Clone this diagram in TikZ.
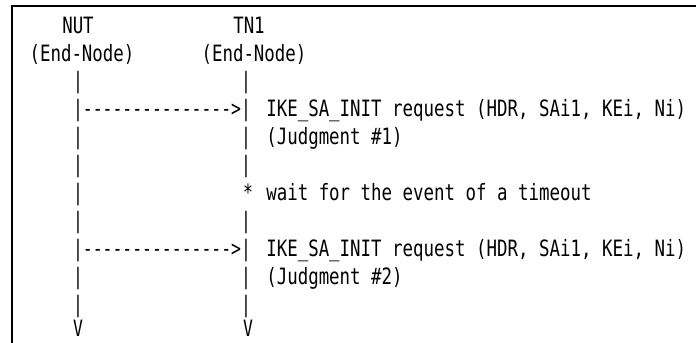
\documentclass[tikz,border=0pt]{standalone}
\usepackage{fontspec}
\newfontfamily\labfont[FakeStretch=0.775,Ligatures=TeXOff]{DejaVu Sans Mono}
\newfontfamily\artfont[FakeStretch=0.73,Ligatures=TeXOff]{DejaVu Sans Mono}
\begin{document}
\begin{tikzpicture}[
lab/.style={font={\labfont\fontsize{16}{18}\selectfont},inner sep=0pt,anchor=base west},
hdr/.style={font={\labfont\fontsize{16}{18}\selectfont},inner sep=0pt,anchor=base},
art/.style={font={\artfont\fontsize{16}{18}\selectfont},inner sep=0pt,anchor=base}]
\newcommand{\Exchange}[3]{
\node[art](arr#2) at(4.05,{-0.83-(#1-1)*0.6975}){|--------------->|};
\node[lab](req#2) at(6.65,{-0.83-(#1-1)*0.6975}){IKE\_SA\_INIT request (HDR, SAi1, KEi, Ni)};
\node[lab](jdg#2) at(6.65,{-0.83-#1*0.6975}){(Judgment \##3)};}
\useasboundingbox(0,0)rectangle(17.4,-8.575);
\draw[line width=1.4pt](0.3,-8.575)--(0.3,-0.15)--(17.4,-0.15);
\node[hdr](nut) at(1.95,-0.83){NUT};
\node[hdr](tn) at(6.225,-0.83){TN1};
\node[hdr](nutrole) at(2.05,-1.53){(End-Node)};
\node[hdr](tnrole) at(6.35,-1.53){(End-Node)};
\foreach \r in {3,5,6,7,8,10,11}
\node[art](nl\r) at(1.95,{-0.83-(\r-1)*0.6975}){|};
\foreach \r in {3,5,6,8,10,11}
\node[art](tl\r) at(6.15,{-0.83-(\r-1)*0.6975}){|};
\Exchange{4}{a}{1}
\Exchange{9}{b}{2}
\node[art](star) at(6.2,-5.015) {*};
\node[lab](wait) at(6.65,-5.015) {wait for the event of a timeout};
\node[art](nutend) at(1.95,-8.42){V};
\node[art](tnend) at(6.2,-8.42){V};
\end{tikzpicture}
\end{document}
